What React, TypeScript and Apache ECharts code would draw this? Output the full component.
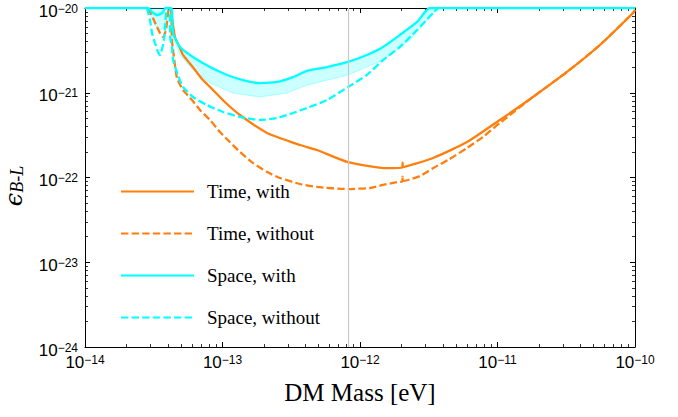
import { useEffect, useRef } from "react";
import * as echarts from "echarts";

// Units used to keep the log axes well inside float-friendly ranges
const X_UNIT = 1e-14;
const Y_UNIT = 1e-24;

const xExponents = [-14, -13, -12, -11, -10];
const yExponents = [-24, -23, -22, -21, -20];
const minorMultipliers = [2, 3, 4, 5, 6, 7, 8, 9];
const seriesNames = ["Time, with", "Time, without", "Space, with", "Space, without"];
const referenceMass = 8.15e-13;

// [DM mass (eV), epsilon_{B-L}]
const timeWith: [number, number][] = [
  [4.22e-14, 1e-20], [4.29e-14, 7.83e-21], [4.51e-14, 4.55e-21], [4.91e-14, 3.37e-21],
  [5.16e-14, 2.79e-21], [6.0e-14, 2.07e-21], [7.1e-14, 1.45e-21], [8.11e-14, 1.17e-21],
  [1.04e-13, 7.78e-22], [1.34e-13, 5.46e-22], [2.11e-13, 3.35e-22], [3.66e-13, 2.42e-22],
  [4.86e-13, 2.11e-22], [8.18e-13, 1.52e-22], [1.57e-12, 1.29e-22], [2.03e-12, 1.32e-22],
  [2.04e-12, 1.5e-22], [2.05e-12, 1.33e-22], [3.4e-12, 1.7e-22], [6.0e-12, 2.62e-22],
  [1.04e-11, 4.77e-22], [1.81e-11, 8.91e-22], [3.2e-11, 1.76e-21], [5.56e-11, 3.66e-21],
  [9.66e-11, 8.73e-21], [1e-10, 9.47e-21],
];

const timeWithout: [number, number][] = [
  [2.87e-14, 1e-20], [3.12e-14, 7.62e-21], [3.34e-14, 5.97e-21], [3.51e-14, 5.07e-21],
  [3.69e-14, 4.55e-21], [3.88e-14, 5.5e-21], [4.01e-14, 8.27e-21], [4.08e-14, 1e-20],
  [4.22e-14, 1e-20], [4.29e-14, 4.19e-21], [4.51e-14, 2.13e-21], [4.67e-14, 1.49e-21],
  [5.16e-14, 1.08e-21], [6.0e-14, 8.21e-22], [6.86e-14, 6.26e-22], [8.11e-14, 4.77e-22],
  [9.59e-14, 3.44e-22], [1.13e-13, 2.62e-22], [1.34e-13, 2.0e-22], [1.67e-13, 1.48e-22],
  [2.11e-13, 1.16e-22], [2.62e-13, 9.86e-23], [3.66e-13, 8.38e-23], [4.86e-13, 7.73e-23],
  [8.18e-13, 7.31e-23], [1.18e-12, 7.52e-23], [1.47e-12, 8.16e-23], [1.86e-12, 8.85e-23],
  [2.03e-12, 9.0e-23], [2.04e-12, 1.02e-22], [2.05e-12, 9.1e-23], [2.23e-12, 9.34e-23],
  [2.73e-12, 1.04e-22], [3.4e-12, 1.29e-22], [4.37e-12, 1.61e-22], [6.0e-12, 2.23e-22],
  [7.84e-12, 3.01e-22], [1.04e-11, 4.4e-22], [1.81e-11, 8.91e-22], [3.2e-11, 1.76e-21],
  [5.56e-11, 3.66e-21], [9.66e-11, 8.73e-21], [1e-10, 9.47e-21],
];

const spaceWith: [number, number][] = [
  [1e-14, 1e-20], [2.87e-14, 1e-20], [3.07e-14, 8.97e-21], [3.34e-14, 8.27e-21],
  [3.63e-14, 8.73e-21], [3.88e-14, 1e-20], [4.22e-14, 1e-20], [4.29e-14, 9.47e-21],
  [4.37e-14, 5.07e-21], [4.91e-14, 3.47e-21], [6.1e-14, 2.64e-21], [8.11e-14, 2.01e-21],
  [1.08e-13, 1.62e-21], [1.41e-13, 1.41e-21], [1.87e-13, 1.3e-21], [2.49e-13, 1.34e-21],
  [3.26e-13, 1.53e-21], [4.11e-13, 1.81e-21], [5.75e-13, 2.01e-21], [8.18e-13, 2.31e-21],
  [1.12e-12, 2.79e-21], [1.47e-12, 3.47e-21], [1.95e-12, 4.8e-21], [2.6e-12, 6.84e-21],
  [3.23e-12, 1e-20], [1e-10, 1e-20],
];

const spaceWithout: [number, number][] = [
  [2.82e-14, 1e-20], [2.97e-14, 7.22e-21], [3.07e-14, 5.07e-21], [3.23e-14, 3.86e-21],
  [3.4e-14, 3.03e-21], [3.51e-14, 2.79e-21], [3.75e-14, 4.19e-21], [3.95e-14, 1e-20],
  [4.14e-14, 1e-20], [4.16e-14, 4.55e-21], [4.29e-14, 3.47e-21], [4.37e-14, 2.43e-21],
  [4.74e-14, 1.62e-21], [5.16e-14, 1.17e-21], [6.1e-14, 8.91e-22], [7.71e-14, 7.17e-22],
  [1.01e-13, 5.93e-22], [1.34e-13, 5.18e-22], [1.87e-13, 4.77e-22], [2.49e-13, 5.04e-22],
  [3.26e-13, 5.77e-22], [4.11e-13, 6.61e-22], [5.75e-13, 8.21e-22], [8.18e-13, 1.17e-21],
  [1.12e-12, 1.62e-21], [1.47e-12, 2.43e-21], [1.95e-12, 3.47e-21], [2.6e-12, 5.5e-21],
  [3.4e-12, 8.73e-21], [3.69e-12, 1e-20],
];

// lower edge of the shaded "Space, with" band
const spaceBandLower: [number, number][] = [
  [4.29e-14, 4.8e-21], [4.91e-14, 2.79e-21], [6.1e-14, 1.86e-21], [8.11e-14, 1.3e-21],
  [1.19e-13, 9.93e-22], [1.87e-13, 8.91e-22], [2.94e-13, 9.93e-22], [4.11e-13, 1.23e-21],
  [8.18e-13, 1.62e-21], [1.47e-12, 2.43e-21], [2.31e-12, 4.19e-21], [3.4e-12, 8.73e-21],
  [3.82e-12, 1e-20],
];

const spaceDipLower: [number, number][] = [
  [2.87e-14, 1e-20], [2.97e-14, 8.5e-21], [3.23e-14, 6.3e-21], [3.51e-14, 5.5e-21],
  [3.75e-14, 5.81e-21], [3.95e-14, 8.27e-21], [4.01e-14, 1e-20],
];

const ORANGE = "#ff7f0e";
const CYAN = "#00ffff";

const scale = (pts: [number, number][]) => pts.map(([x, y]) => [x / X_UNIT, y / Y_UNIT]);

const decadeMinor = (count: number) => {
  const out: number[] = [];
  for (let d = 0; d < count; d++) for (const k of minorMultipliers) out.push(k * Math.pow(10, d));
  return out;
};

export default function App() {
  const ref = useRef<HTMLDivElement>(null);

  useEffect(() => {
    if (!ref.current) return;
    const chart = echarts.init(ref.current, undefined, { renderer: "svg" });

    const upperBand = spaceWith.filter(([x]) => x >= 4.22e-14 && x <= 3.23e-12);
    const bandMain = [...upperBand, ...spaceBandLower.slice().reverse()];
    const bandPolys = [scale(bandMain), scale(spaceDipLower)];

    const labelRich = {
      b: { fontFamily: "Liberation Sans", fontSize: 17, lineHeight: 17, color: "#000", verticalAlign: "bottom" },
      s: { fontFamily: "Liberation Sans", fontSize: 12, lineHeight: 12, color: "#000", verticalAlign: "top", padding: [0, 0, 9, 0] },
    };
    const fmt = (offset: number) => (v: number) => {
      const e = Math.round(Math.log10(v)) + offset;
      return `{b|10}{s|${e < 0 ? "\u2212" + Math.abs(e) : e}}`;
    };

    const xMinor = decadeMinor(xExponents.length - 1);
    const yMinor = decadeMinor(yExponents.length - 1);
    const xMax = Math.pow(10, xExponents[xExponents.length - 1] - xExponents[0]);
    const yMax = Math.pow(10, yExponents[yExponents.length - 1] - yExponents[0]);

    const baseX = {
      type: "log" as const, logBase: 10, min: 1, max: xMax, splitLine: { show: false },
      axisLine: { show: true, lineStyle: { color: "#000", width: 1 } },
    };
    const baseY = {
      type: "log" as const, logBase: 10, min: 1, max: yMax, splitLine: { show: false },
      axisLine: { show: true, lineStyle: { color: "#000", width: 1 } },
    };
    const majorTick = { show: true, inside: true, length: 5, lineStyle: { color: "#000", width: 1 } };
    const minorTickX = { show: true, inside: true, length: 3, customValues: xMinor, lineStyle: { color: "#000", width: 0.8 } };
    const minorTickY = { show: true, inside: true, length: 3, customValues: yMinor, lineStyle: { color: "#000", width: 0.8 } };

    chart.setOption({
      animation: false,
      backgroundColor: "#fff",
      grid: { left: 85, right: 43, top: 8, bottom: 70, containLabel: false, outerBoundsMode: "none" },
      legend: {
        data: seriesNames,
        orient: "vertical",
        left: 120,
        top: 182,
        padding: 0,
        itemWidth: 73,
        itemHeight: 20,
        itemGap: 23,
        selectedMode: false,
        itemStyle: { opacity: 0 },
        textStyle: { fontFamily: "Liberation Serif", fontSize: 19, color: "#000", padding: [0, 0, 0, 8] },
      },
      xAxis: [
        {
          ...baseX, position: "bottom",
          axisTick: majorTick,
          axisLabel: { show: true, margin: 7, formatter: fmt(xExponents[0]), rich: labelRich },
          name: "DM Mass [eV]", nameLocation: "middle", nameGap: 30,
          nameTextStyle: { fontFamily: "Liberation Serif", fontSize: 25, color: "#000" },
        },
        { ...baseX, position: "top", axisTick: majorTick, axisLabel: { show: false } },
        { ...baseX, position: "bottom", axisLine: { show: false }, axisTick: minorTickX, axisLabel: { show: false } },
        { ...baseX, position: "top", axisLine: { show: false }, axisTick: minorTickX, axisLabel: { show: false } },
      ],
      yAxis: [
        {
          ...baseY, position: "left",
          axisTick: majorTick,
          axisLabel: { show: true, margin: 7, formatter: fmt(yExponents[0]), rich: labelRich, padding: [6, 0, 0, 0] },
        },
        { ...baseY, position: "right", axisTick: majorTick, axisLabel: { show: false } },
        { ...baseY, position: "left", axisLine: { show: false }, axisTick: minorTickY, axisLabel: { show: false } },
        { ...baseY, position: "right", axisLine: { show: false }, axisTick: minorTickY, axisLabel: { show: false } },
      ],
      graphic: [
        {
          type: "text",
          x: 14,
          y: 186,
          rotation: Math.PI / 2,
          style: {
            text: "{e|\u03f5}{s|B-L}",
            align: "center",
            verticalAlign: "middle",
            fill: "#000",
            rich: {
              e: { fontFamily: "DejaVu Serif", fontStyle: "italic", fontSize: 24, lineHeight: 24, verticalAlign: "top", fill: "#000" },
              s: { fontFamily: "Liberation Serif", fontStyle: "italic", fontSize: 18, lineHeight: 17, verticalAlign: "bottom", padding: [11, 0, 0, 0], fill: "#000" },
            },
          },
        },
      ],
      series: [
        {
          type: "line", name: "ref", data: [], xAxisIndex: 0, yAxisIndex: 0, z: 1,
          markLine: {
            silent: true, symbol: "none", label: { show: false },
            lineStyle: { color: "#c8c8c8", width: 1.2, type: "solid" },
            data: [{ xAxis: referenceMass / X_UNIT }],
          },
        },
        {
          type: "custom", name: "band", xAxisIndex: 0, yAxisIndex: 0, z: 2, silent: true,
          data: bandPolys.map((p) => p[0]),
          renderItem: (params: any, api: any) => {
            const poly = bandPolys[params.dataIndex];
            const points = poly.map((p) => api.coord(p));
            return {
              type: "polygon",
              shape: { points },
              style: { fill: "rgba(0,255,255,0.2)", stroke: "rgba(0,255,255,0.35)", lineWidth: 0.8 },
            };
          },
        },
        {
          type: "line", name: seriesNames[0], data: scale(timeWith), symbol: "none", smooth: 0.2, z: 3,
          lineStyle: { color: ORANGE, width: 2.3 }, itemStyle: { color: ORANGE },
        },
        {
          type: "line", name: seriesNames[1], data: scale(timeWithout), symbol: "none", smooth: 0.2, z: 3,
          lineStyle: { color: ORANGE, width: 2.3, type: [7.4, 3.2] }, itemStyle: { color: ORANGE },
        },
        {
          type: "line", name: seriesNames[2], data: scale(spaceWith), symbol: "none", smooth: 0.2, z: 4,
          lineStyle: { color: CYAN, width: 2.3 }, itemStyle: { color: CYAN },
        },
        {
          type: "line", name: seriesNames[3], data: scale(spaceWithout), symbol: "none", smooth: 0.2, z: 4,
          lineStyle: { color: CYAN, width: 2.3, type: [7.4, 3.2] }, itemStyle: { color: CYAN },
        },
      ],
    });

    return () => chart.dispose();
  }, []);

  return (
    <div
      ref={ref}
      style={{ position: "fixed", left: 0, top: 0, width: 678, height: 417, background: "#fff" }}
    />
  );
}
